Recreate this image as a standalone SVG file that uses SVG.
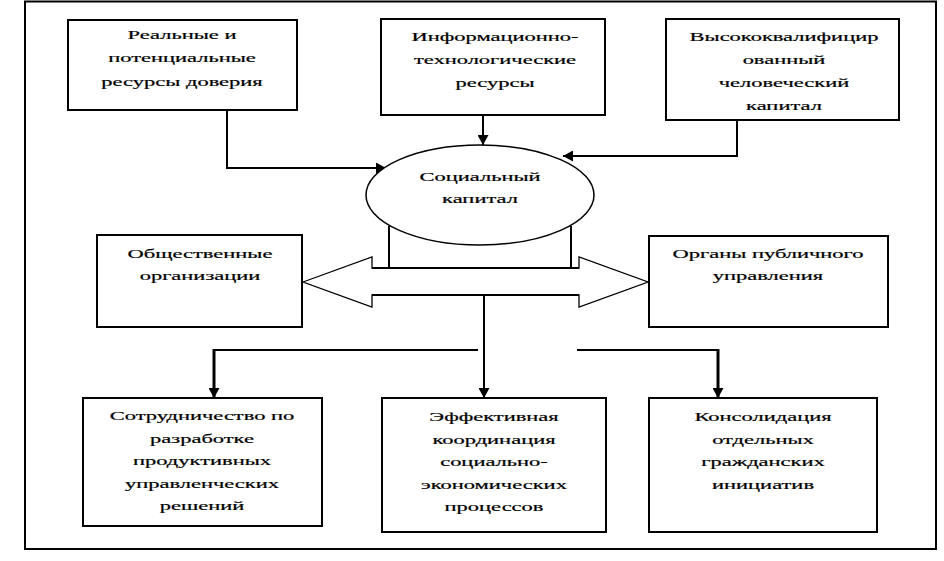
<svg xmlns="http://www.w3.org/2000/svg" width="944" height="561" viewBox="0 0 944 561">
<style>
.box{fill:#fff;stroke:#000;stroke-width:2}
.ell{fill:#fff;stroke:#000;stroke-width:1.5}
.ln{fill:none;stroke:#000;stroke-width:2}
.thick{fill:none;stroke:#000;stroke-width:3}
.dbl{fill:#fff;stroke:#000;stroke-width:1.3}
text{font-family:"Liberation Serif","Times New Roman",serif;font-size:22.5px;fill:#000;stroke:#000;stroke-width:0.35;text-anchor:middle}
</style>
<defs>
<marker id="ah" viewBox="0 0 10 11" markerWidth="10" markerHeight="11" refX="10" refY="5.5" orient="auto" markerUnits="userSpaceOnUse">
<path d="M0,0 L10,5.5 L0,11 z" fill="#000"/>
</marker>
</defs>
<rect x="0" y="0" width="944" height="561" fill="#fff"/>
<rect id="frame" x="25" y="1.5" width="911" height="547.5" fill="none" stroke="#000" stroke-width="2"/>

<g id="connectors">
<polyline class="ln" points="227,110 227,168 386,168" marker-end="url(#ah)"/>
<line class="ln" x1="483" y1="115" x2="483" y2="145" marker-end="url(#ah)"/>
<polyline class="ln" points="737,120 737,156 563,156" marker-end="url(#ah)"/>
<line class="ln" x1="389" y1="226" x2="389" y2="268"/>
<line class="ln" x1="571" y1="226" x2="571" y2="268"/>
<polygon id="double-arrow" class="dbl" points="303,282 372,257 372,268 579,268 579,257 648,282 579,307 579,295 372,295 372,307"/>
<line class="ln" x1="372" y1="268" x2="579" y2="268"/>
<line class="ln" x1="372" y1="295" x2="579" y2="295"/>
<line class="ln" x1="484" y1="295" x2="484" y2="398" marker-end="url(#ah)"/>
<line class="ln" x1="213" y1="350" x2="478" y2="350"/>
<line class="ln" x1="577" y1="350" x2="719" y2="350"/>
<line class="thick" x1="214" y1="349" x2="214" y2="398" marker-end="url(#ah)"/>
<line class="thick" x1="718" y1="349" x2="718" y2="398" marker-end="url(#ah)"/>
</g>

<g id="n-trust">
<rect class="box" x="68" y="20" width="229" height="90"/>
<g transform="translate(182,39) scale(1,0.57)">
<text x="0" y="0">Реальные и</text>
<text x="0" y="41">потенциальные</text>
<text x="0" y="82">ресурсы доверия</text>
</g>
</g>

<g id="n-info">
<rect class="box" x="381" y="19" width="224" height="96"/>
<g transform="translate(495,41) scale(1,0.57)">
<text x="0" y="0">Информационно-</text>
<text x="0" y="40.5">технологические</text>
<text x="0" y="81">ресурсы</text>
</g>
</g>

<g id="n-human">
<rect class="box" x="666" y="19" width="233" height="101"/>
<g transform="translate(784,41) scale(1,0.57)">
<text x="0" y="0">Высококвалифицир</text>
<text x="0" y="40.5">ованный</text>
<text x="0" y="81">человеческий</text>
<text x="0" y="121.5">капитал</text>
</g>
</g>

<g id="n-social">
<ellipse class="ell" cx="480" cy="195" rx="114" ry="50"/>
<g transform="translate(480,181) scale(1,0.57)">
<text x="0" y="0">Социальный</text>
<text x="0" y="39">капитал</text>
</g>
</g>

<g id="n-public-org">
<rect class="box" x="97" y="235" width="205" height="92"/>
<g transform="translate(200,258) scale(1,0.57)">
<text x="0" y="0">Общественные</text>
<text x="0" y="39">организации</text>
</g>
</g>

<g id="n-gov">
<rect class="box" x="649" y="236" width="239" height="91"/>
<g transform="translate(768,258) scale(1,0.57)">
<text x="0" y="0">Органы публичного</text>
<text x="0" y="39">управления</text>
</g>
</g>

<g id="n-coop">
<rect class="box" x="83" y="398" width="239" height="128"/>
<g transform="translate(202,420) scale(1,0.57)">
<text x="0" y="0">Сотрудничество по</text>
<text x="0" y="39.5">разработке</text>
<text x="0" y="79">продуктивных</text>
<text x="0" y="118.5">управленческих</text>
<text x="0" y="158">решений</text>
</g>
</g>

<g id="n-coord">
<rect class="box" x="382" y="398" width="224" height="134"/>
<g transform="translate(494,421) scale(1,0.57)">
<text x="0" y="0">Эффективная</text>
<text x="0" y="39.5">координация</text>
<text x="0" y="79">социально-</text>
<text x="0" y="118.5">экономических</text>
<text x="0" y="158">процессов</text>
</g>
</g>

<g id="n-consol">
<rect class="box" x="649" y="398" width="228" height="134"/>
<g transform="translate(763,421) scale(1,0.57)">
<text x="0" y="0">Консолидация</text>
<text x="0" y="39.5">отдельных</text>
<text x="0" y="79">гражданских</text>
<text x="0" y="118.5">инициатив</text>
</g>
</g>
</svg>
